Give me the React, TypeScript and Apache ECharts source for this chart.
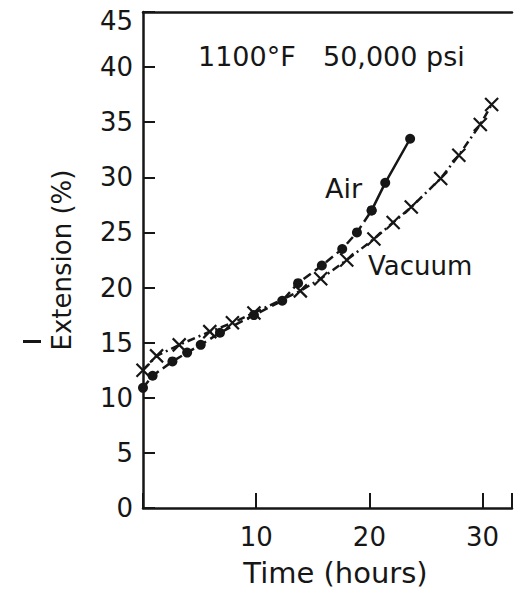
import React, { useEffect, useRef } from "react";
import * as echarts from "echarts";

const airTime = [0.0, 0.85, 2.6, 3.9, 5.1, 6.8, 9.8, 12.3, 13.7, 15.8, 17.6, 18.9, 20.2, 21.4, 23.6];
const airExt = [10.9, 12.0, 13.3, 14.1, 14.8, 15.9, 17.5, 18.8, 20.4, 22.0, 23.5, 25.0, 27.0, 29.5, 33.5];
const vacTime = [0.0, 1.2, 3.2, 5.9, 7.9, 9.8, 13.9, 15.7, 18.0, 20.4, 22.1, 23.7, 26.3, 27.9, 29.8, 30.8];
const vacExt = [12.5, 13.8, 14.8, 16.0, 16.8, 17.7, 19.7, 20.8, 22.5, 24.4, 25.9, 27.3, 29.9, 32.0, 34.8, 36.6];
const airSolidFrom = 12;

const FONT = "DejaVu Sans";
const INK = "#161616";

export default function App() {
  const ref = useRef<HTMLDivElement>(null);
  useEffect(() => {
    if (!ref.current) return;
    const chart = echarts.init(ref.current, undefined, { renderer: "svg" });
    const airData = airTime.map((t, i) => [t, airExt[i]]);
    const airDashed = airData.slice(0, airSolidFrom + 1);
    const airSolid = airData.slice(airSolidFrom);
    const vacData = vacTime.map((t, i) => [t, vacExt[i]]);
    chart.setOption({
      animation: false,
      backgroundColor: "#ffffff",
      grid: { left: 143, top: 12, right: 0, bottom: 84 },
      xAxis: [
        {
          type: "value",
          min: 0,
          max: 32.6,
          interval: 10,
          name: "Time (hours)",
          nameLocation: "middle",
          nameGap: 50,
          nameTextStyle: { fontFamily: FONT, fontSize: 29, color: INK, padding: [0, 0, 0, 16] },
          axisLine: { show: true, lineStyle: { color: INK, width: 2.5 } },
          axisTick: { show: true, inside: true, length: 15, lineStyle: { color: INK, width: 2 } },
          axisLabel: {
            fontFamily: FONT,
            fontSize: 26,
            color: INK,
            margin: 16,
            formatter: (v: number) => (v !== 0 && v % 10 === 0 ? String(v) : ""),
          },
          splitLine: { show: false },
        },
        {
          type: "value",
          position: "top",
          min: 0,
          max: 32.6,
          axisLine: { show: true, lineStyle: { color: INK, width: 2.5 } },
          axisTick: { show: false },
          axisLabel: { show: false },
          splitLine: { show: false },
        },
      ],
      yAxis: {
        type: "value",
        min: 0,
        max: 45,
        interval: 5,
        name: "Extension (%)",
        nameLocation: "middle",
        nameRotate: 90,
        nameGap: 68,
        nameTextStyle: { fontFamily: FONT, fontSize: 26, color: INK },
        axisLine: { show: true, lineStyle: { color: INK, width: 2.5 } },
        axisTick: { show: true, inside: true, length: 12, lineStyle: { color: INK, width: 2 } },
        axisLabel: {
          fontFamily: FONT,
          fontSize: 26,
          color: INK,
          margin: 10,
          formatter: (v: number) => (v === 45 ? "{top|45}" : String(v)),
          rich: { top: { fontFamily: FONT, fontSize: 26, color: INK, padding: [18, 0, 0, 0] } },
        },
        splitLine: { show: false },
      },
      series: [
        {
          name: "Air",
          type: "line",
          xAxisIndex: 0,
          data: airDashed,
          clip: false,
          symbol: "circle",
          symbolSize: 10,
          itemStyle: { color: INK },
          lineStyle: { color: INK, width: 2.5, type: [9, 5] },
        },
        {
          name: "Air tail",
          type: "line",
          xAxisIndex: 0,
          data: airSolid,
          clip: false,
          symbol: "circle",
          symbolSize: 10,
          itemStyle: { color: INK },
          lineStyle: { color: INK, width: 2.5, type: "solid" },
        },
        {
          name: "Vacuum",
          type: "line",
          xAxisIndex: 0,
          data: vacData,
          clip: false,
          symbol: "path://M0,0L10,10M10,0L0,10",
          symbolSize: 13,
          itemStyle: { color: "transparent", borderColor: INK, borderWidth: 2.2 },
          lineStyle: { color: INK, width: 2.5, type: [8, 4, 2, 4] },
        },
      ],
      graphic: [
        {
          type: "text",
          left: 198,
          top: 43,
          style: { text: "1100°F", fontFamily: FONT, fontSize: 27, fill: INK },
        },
        {
          type: "text",
          left: 323,
          top: 43,
          style: { text: "50,000 psi", fontFamily: FONT, fontSize: 27, fill: INK },
        },
        {
          type: "text",
          left: 325,
          top: 175,
          style: { text: "Air", fontFamily: FONT, fontSize: 27, fill: INK },
        },
        {
          type: "text",
          left: 368,
          top: 253,
          style: { text: "Vacuum", fontFamily: FONT, fontSize: 26, fill: INK },
        },
        {
          type: "rect",
          left: 23,
          top: 340,
          shape: { x: 0, y: 0, width: 18, height: 3 },
          style: { fill: INK },
        },
      ],
    });
    return () => chart.dispose();
  }, []);
  return (
    <div
      ref={ref}
      style={{ position: "fixed", left: 0, top: 0, width: 515, height: 592 }}
    />
  );
}
